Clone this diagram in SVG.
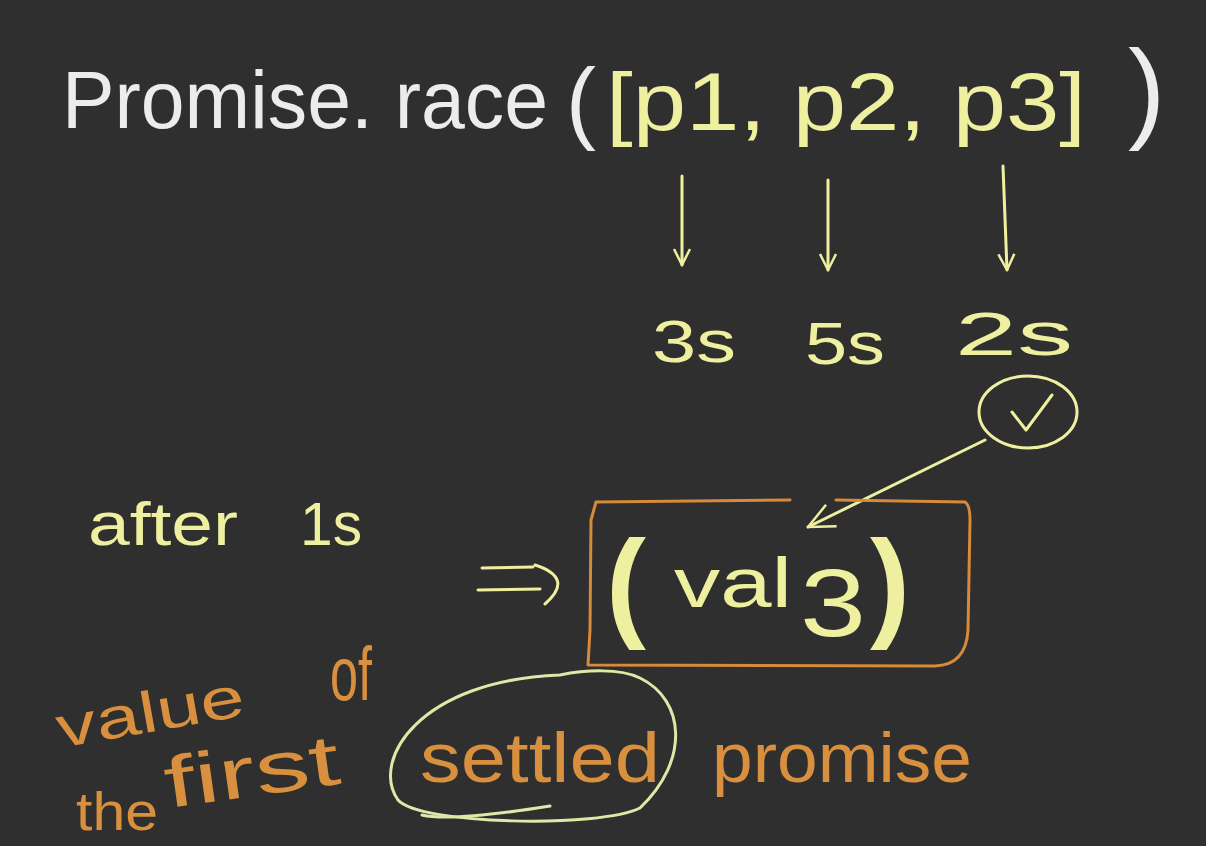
<svg xmlns="http://www.w3.org/2000/svg" width="1206" height="846" viewBox="0 0 1206 846">
<defs>
<style>
.w{fill:#ececec;font-family:"Liberation Sans",sans-serif;}
.y{fill:#eef0a0;font-family:"Liberation Sans",sans-serif;}
.o{fill:#d9903e;font-family:"Liberation Sans",sans-serif;}
.ys{stroke:#eef0a0;stroke-width:3;fill:none;stroke-linecap:round;stroke-linejoin:round;}
.os{stroke:#d68a3a;stroke-width:3;fill:none;stroke-linecap:round;stroke-linejoin:round;}
.gs{stroke:#dfe8a8;stroke-width:3;fill:none;stroke-linecap:round;}
</style>
<marker id="ah" viewBox="0 0 20 20" refX="18" refY="10" markerWidth="20" markerHeight="20" markerUnits="userSpaceOnUse" orient="auto">
<path d="M2 2 L18 10 L2 18" fill="none" stroke="#eef0a0" stroke-width="2.5" stroke-linejoin="round"/>
</marker>
<marker id="ah2" viewBox="0 0 30 30" refX="28" refY="15" markerWidth="30" markerHeight="30" markerUnits="userSpaceOnUse" orient="auto">
<path d="M2 3 L28 15 L2 27" fill="none" stroke="#eef0a0" stroke-width="2.5" stroke-linejoin="round"/>
</marker>
</defs>
<rect width="1206" height="846" fill="#2f2f2f"/>

<g id="title">
<text class="w" x="62" y="128" font-size="82" textLength="486" lengthAdjust="spacingAndGlyphs">Promise. race</text>
<text class="w" x="566" y="132" font-size="90">(</text>
<text class="y" x="606" y="130" font-size="82" textLength="480" lengthAdjust="spacingAndGlyphs">[p1, p2, p3]</text>
<text class="w" x="1128" y="128" font-size="112">)</text>
</g>

<g id="connectors">
<line class="ys" x1="682" y1="176" x2="682" y2="265" marker-end="url(#ah)"/>
<line class="ys" x1="828" y1="180" x2="828" y2="270" marker-end="url(#ah)"/>
<line class="ys" x1="1003" y1="166" x2="1007" y2="270" marker-end="url(#ah)"/>
<line class="ys" x1="985" y1="440" x2="808" y2="527" marker-end="url(#ah2)"/>
<path class="ys" d="M478 590 L540 589 M482 568 L533 567 M535 565 Q575 578 545 604"/>
</g>

<g id="t3s"><text class="y" x="652" y="362" font-size="60" textLength="84" lengthAdjust="spacingAndGlyphs">3s</text></g>
<g id="t5s"><text class="y" x="805" y="364" font-size="60" textLength="80" lengthAdjust="spacingAndGlyphs">5s</text></g>
<g id="t2s"><text class="y" x="955" y="355" font-size="62" textLength="118" lengthAdjust="spacingAndGlyphs">2s</text></g>

<g id="check">
<ellipse class="ys" cx="1028" cy="412" rx="49" ry="36"/>
<path class="ys" d="M1012 412 L1026 430 L1052 395"/>
</g>

<g id="result">
<path class="os" d="M596 502 L790 500 M836 500 L965 502 Q970 505 970 520 L968 630 Q966 665 935 666 L588 665 L590 630 L591 520 L596 502"/>
<text class="y" x="606" y="625" font-size="120" font-weight="bold">(</text>
<text class="y" x="674" y="607" font-size="70" textLength="118" lengthAdjust="spacingAndGlyphs">val</text>
<text class="y" x="800" y="636" font-size="96" textLength="66" lengthAdjust="spacingAndGlyphs">3</text>
<text class="y" x="870" y="625" font-size="120" font-weight="bold">)</text>
</g>

<g id="after">
<text class="y" x="88" y="545" font-size="62" textLength="150" lengthAdjust="spacingAndGlyphs">after</text>
<text class="y" x="300" y="545" font-size="62" textLength="62" lengthAdjust="spacingAndGlyphs">1s</text>
</g>

<g id="caption">
<text class="o" x="60" y="748" font-size="58" textLength="190" lengthAdjust="spacingAndGlyphs" transform="rotate(-10 60 748)">value</text>
<text class="o" x="330" y="700" font-size="76" textLength="42" lengthAdjust="spacingAndGlyphs">of</text>
<text class="o" x="76" y="830" font-size="54" textLength="82" lengthAdjust="spacingAndGlyphs">the</text>
<text class="o" x="168" y="808" font-size="72" textLength="176" lengthAdjust="spacingAndGlyphs" transform="rotate(-8 168 808)">first</text>
<text class="o" x="420" y="782" font-size="70" textLength="240" lengthAdjust="spacingAndGlyphs">settled</text>
<text class="o" x="712" y="782" font-size="70" textLength="260" lengthAdjust="spacingAndGlyphs">promise</text>
<path class="gs" d="M560 675 C420 680 370 760 398 800 C420 825 600 828 640 808 C690 760 685 700 640 678 C620 668 585 670 560 675 Z"/>
<path class="gs" d="M422 815 Q450 822 550 806"/>
</g>
</svg>
